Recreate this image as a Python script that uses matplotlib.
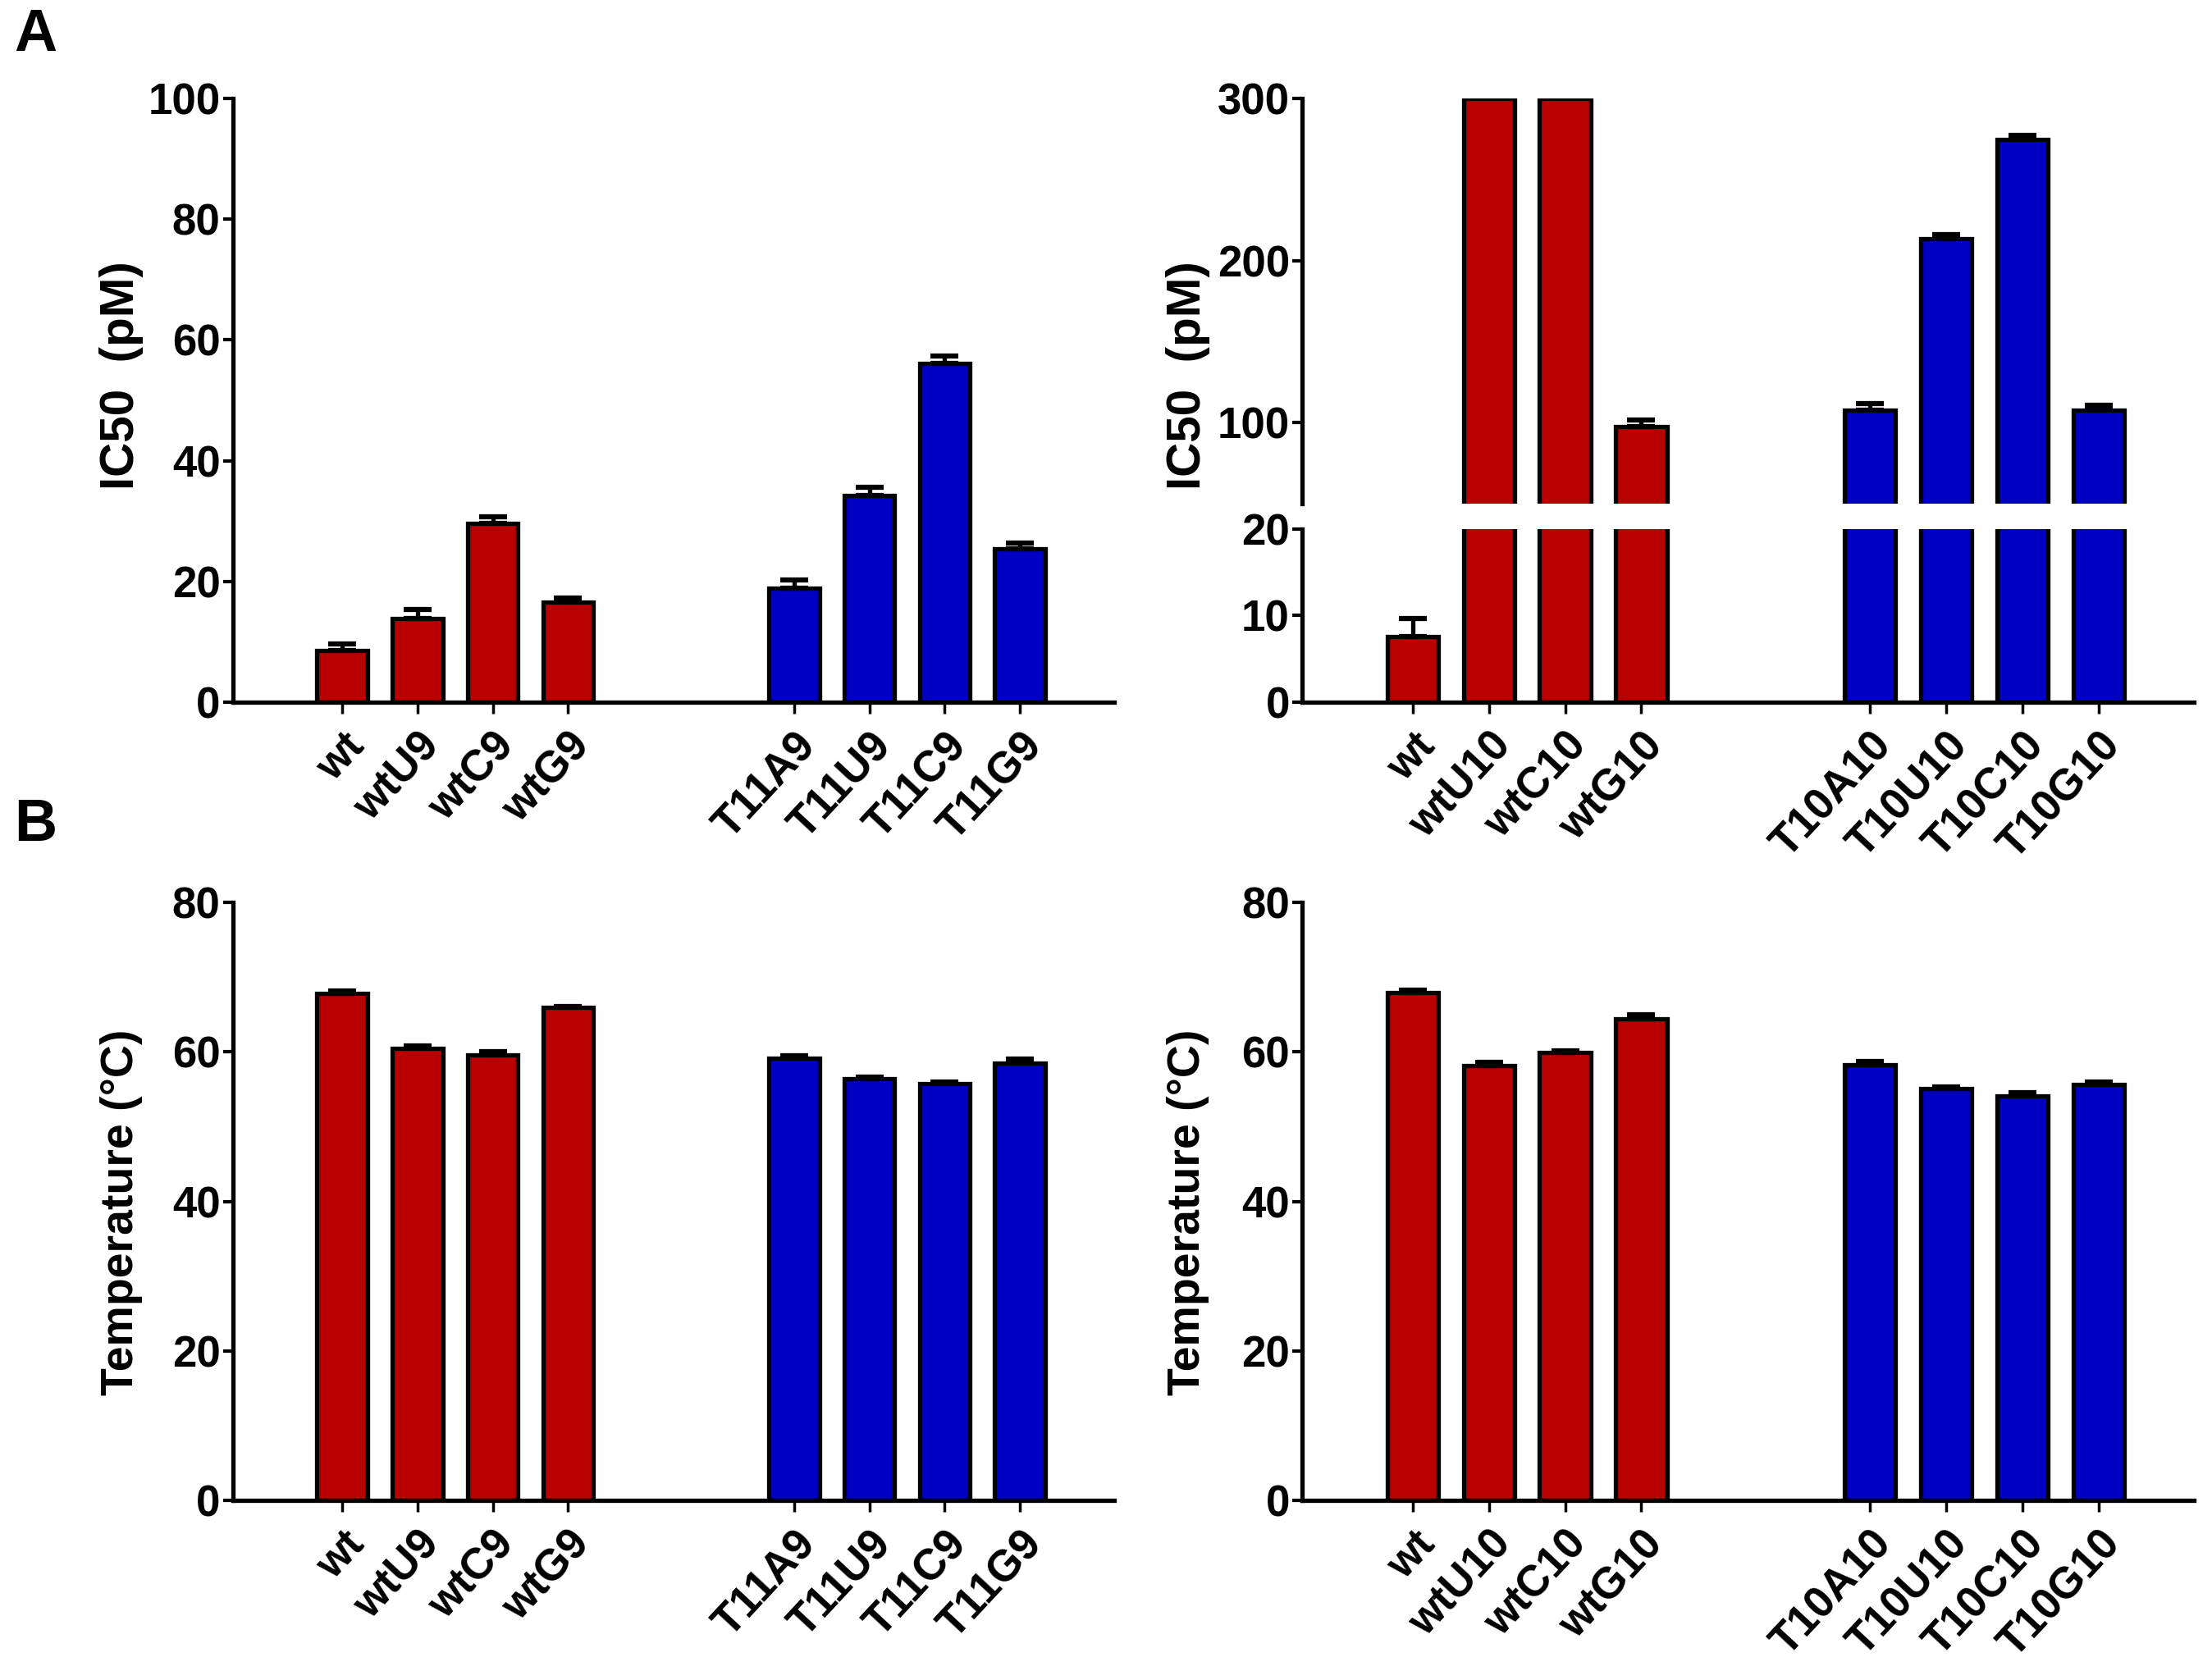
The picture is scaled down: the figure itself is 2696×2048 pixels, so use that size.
import numpy as np
import matplotlib
matplotlib.use('Agg')
import matplotlib.pyplot as plt

labels_9 = ['wt', 'wtU9', 'wtC9', 'wtG9', 'T11A9', 'T11U9', 'T11C9', 'T11G9']
labels_10 = ['wt', 'wtU10', 'wtC10', 'wtG10', 'T10A10', 'T10U10', 'T10C10', 'T10G10']

ic50_9 = [8.5, 13.9, 29.6, 16.6, 18.9, 34.3, 56.1, 25.4]
ic50_9_err = [1.2, 1.4, 1.1, 0.7, 1.3, 1.3, 1.2, 1.0]
ic50_10 = [7.6, 300, 300, 97.8, 107.8, 213.7, 274.9, 107.8]
ic50_10_err = [2.1, 0, 0, 3.6, 4.0, 2.3, 2.4, 2.8]

tm_9 = [67.8, 60.5, 59.6, 65.9, 59.2, 56.4, 55.7, 58.5]
tm_9_err = [0.4, 0.3, 0.4, 0.2, 0.3, 0.2, 0.3, 0.5]
tm_10 = [67.9, 58.2, 59.9, 64.4, 58.3, 55.1, 54.1, 55.6]
tm_10_err = [0.4, 0.4, 0.2, 0.6, 0.4, 0.2, 0.4, 0.35]

RED = '#b80000'
BLUE = '#0000c4'
bar_colors = [RED] * 4 + [BLUE] * 4

narrow = ['Liberation Sans Narrow', 'Liberation Sans', 'DejaVu Sans']
wide = ['Liberation Sans', 'Arial', 'DejaVu Sans']

pos = np.r_[np.arange(4), np.arange(4) + 6]


def style_ax(ax, bottom=True):
    for s in ['top', 'right']:
        ax.spines[s].set_visible(False)
    ax.spines['left'].set_linewidth(3.8)
    ax.spines['bottom'].set_linewidth(3.8)
    if not bottom:
        ax.spines['bottom'].set_visible(False)
    ax.tick_params(axis='y', direction='out', length=9, width=3, pad=2)
    ax.tick_params(axis='x', direction='out', length=10, width=2.5, pad=10)
    ax.set_xlim(-1.45, 10.25)
    for t in ax.get_yticklabels():
        t.set_fontfamily(narrow)
        t.set_fontweight('bold')
        t.set_fontsize(38)


def draw_bars(ax, vals, errs):
    ax.bar(pos, vals, width=0.67, color=bar_colors, edgecolor='black', linewidth=3.8, zorder=2)
    vals = np.array(vals, dtype=float)
    errs = np.array(errs, dtype=float)
    m = errs > 0
    ax.errorbar(pos[m], vals[m], yerr=[np.zeros(m.sum()), errs[m]], fmt='none',
                ecolor='black', elinewidth=3.8, capsize=12, capthick=4.5, zorder=3)


def set_xlabels(ax, labels):
    ax.set_xticks(pos)
    ax.set_xticklabels(labels, rotation=47, ha='right', rotation_mode='anchor',
                       fontfamily=wide, fontweight='bold', fontsize=38)


fig = plt.figure(figsize=(26.96, 20.48), dpi=100)

# A left
ax1 = fig.add_axes([0.1053, 0.582, 0.3984, 0.3594])
draw_bars(ax1, ic50_9, ic50_9_err)
ax1.set_ylim(0, 100)
ax1.set_yticks([0, 20, 40, 60, 80, 100])
set_xlabels(ax1, labels_9)
style_ax(ax1)

# A right, broken axis
ax2u = fig.add_axes([0.5887, 0.7002, 0.4031, 0.2412])
draw_bars(ax2u, ic50_10, ic50_10_err)
ax2u.set_ylim(50, 300)
ax2u.set_yticks([100, 200, 300])
ax2u.set_xticks([])
style_ax(ax2u, bottom=False)

ax2l = fig.add_axes([0.5887, 0.582, 0.4031, 0.1031])
draw_bars(ax2l, ic50_10, ic50_10_err)
ax2l.set_ylim(0, 20)
ax2l.set_yticks([0, 10, 20])
set_xlabels(ax2l, labels_10)
style_ax(ax2l)

# B
ax3 = fig.add_axes([0.1053, 0.1069, 0.3984, 0.356])
draw_bars(ax3, tm_9, tm_9_err)
ax3.set_ylim(0, 80)
ax3.set_yticks([0, 20, 40, 60, 80])
set_xlabels(ax3, labels_9)
style_ax(ax3)

ax4 = fig.add_axes([0.5887, 0.1069, 0.4031, 0.356])
draw_bars(ax4, tm_10, tm_10_err)
ax4.set_ylim(0, 80)
ax4.set_yticks([0, 20, 40, 60, 80])
set_xlabels(ax4, labels_10)
style_ax(ax4)

lab = dict(rotation=90, ha='center', va='center', fontfamily=wide, fontweight='bold')
fig.text(148 / 2696, 1 - 458 / 2048, 'IC50  (pM)', fontsize=42, **lab)
fig.text(1448 / 2696, 1 - 458 / 2048, 'IC50  (pM)', fontsize=42, **lab)
fig.text(148 / 2696, 1 - 1478 / 2048, 'Temperature (°C)', fontsize=40, **lab)
fig.text(1448 / 2696, 1 - 1478 / 2048, 'Temperature (°C)', fontsize=40, **lab)

fig.text(43 / 2696, 1 - 43 / 2048, 'A', ha='center', va='center', fontfamily=wide,
         fontweight='bold', fontsize=52)
fig.text(43 / 2696, 1 - 1006 / 2048, 'B', ha='center', va='center', fontfamily=wide,
         fontweight='bold', fontsize=52)

fig.savefig('out.png', dpi=100)
